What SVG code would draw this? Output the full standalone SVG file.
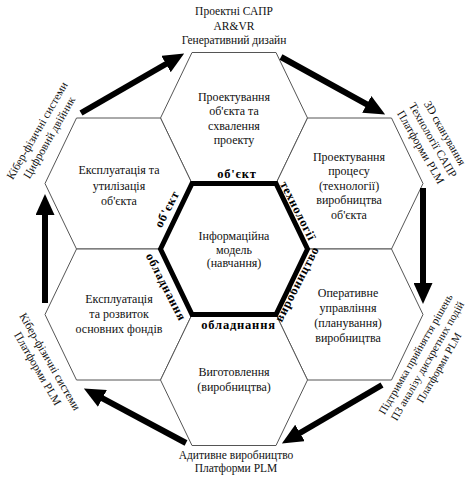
<svg xmlns="http://www.w3.org/2000/svg" width="468" height="478" viewBox="0 0 468 478">
<style>
.hex{fill:#fff;stroke:#555;stroke-width:1}
.core{fill:#fff;stroke:#000;stroke-width:5;stroke-linejoin:miter}
.t{font-family:"Liberation Serif","Times New Roman",serif;font-size:12px;fill:#111;text-anchor:middle}
.o{font-family:"Liberation Serif","Times New Roman",serif;font-size:11.5px;fill:#111;text-anchor:middle}
.os{font-size:11px}
.b{font-family:"Liberation Serif","Times New Roman",serif;font-size:12.5px;font-weight:bold;letter-spacing:0.8px;fill:#000;text-anchor:middle}
.arr{stroke:#000;stroke-width:6;fill:none;marker-end:url(#head)}
</style>
<defs>
<marker id="head" markerUnits="userSpaceOnUse" markerWidth="21" markerHeight="19" viewBox="0 0 21 19" refX="11" refY="9.5" orient="auto">
<path d="M0,0 L21,9.5 L0,19 z" fill="#000"/>
</marker>
</defs>
<rect width="468" height="478" fill="#fff"/>

<g id="hex-top">
<polygon class="hex" points="160.5,118 192,52.5 276,52.5 307.5,118 276,183.5 192,183.5"/>
<text class="t"><tspan x="234" y="100.5">Проектування</tspan><tspan x="234" y="115">об'єкта та</tspan><tspan x="234" y="129.5">схвалення</tspan><tspan x="234" y="144">проекту</tspan></text>
</g>
<g id="hex-upper-left">
<polygon class="hex" points="45,183.5 76.5,118 160.5,118 192,183.5 160.5,249 76.5,249"/>
<text class="t"><tspan x="119" y="174">Експлуатація та</tspan><tspan x="119" y="189.5">утилізація</tspan><tspan x="119" y="205">об'єкта</tspan></text>
</g>
<g id="hex-upper-right">
<polygon class="hex" points="276,183.5 307.5,118 391.5,118 423,183.5 391.5,249 307.5,249"/>
<text class="t"><tspan x="349" y="160.5">Проектування</tspan><tspan x="349" y="175">процесу</tspan><tspan x="349" y="189.5">(технології)</tspan><tspan x="349" y="204">виробництва</tspan><tspan x="349" y="218.5">об'єкта</tspan></text>
</g>
<g id="hex-lower-left">
<polygon class="hex" points="45,314.5 76.5,249 160.5,249 192,314.5 160.5,380 76.5,380"/>
<text class="t"><tspan x="119" y="303">Експлуатація</tspan><tspan x="119" y="318">та розвиток</tspan><tspan x="119" y="333">основних фондів</tspan></text>
</g>
<g id="hex-lower-right">
<polygon class="hex" points="276,314.5 307.5,249 391.5,249 423,314.5 391.5,380 307.5,380"/>
<text class="t"><tspan x="348" y="297">Оперативне</tspan><tspan x="348" y="312">управління</tspan><tspan x="348" y="327">(планування)</tspan><tspan x="348" y="342">виробництва</tspan></text>
</g>
<g id="hex-bottom">
<polygon class="hex" points="160.5,380 192,314.5 276,314.5 307.5,380 276,445.5 192,445.5"/>
<text class="t"><tspan x="234" y="376">Виготовлення</tspan><tspan x="234" y="391">(виробництва)</tspan></text>
</g>
<g id="hex-center">
<polygon class="core" points="160.5,249 192,183.5 276,183.5 307.5,249 276,314.5 192,314.5"/>
<text class="t"><tspan x="234" y="240">Інформаційна</tspan><tspan x="234" y="253.5">модель</tspan><tspan x="234" y="267">(навчання)</tspan></text>
<text class="b" x="237" y="178">об'єкт</text>
<text class="b" x="238.5" y="328.5">обладнання</text>
<text class="b" transform="translate(167,209) rotate(-63)" x="0" y="4">об'єкт</text>
<text class="b" transform="translate(166,287) rotate(63)" x="0" y="4">обладнання</text>
<text class="b" transform="translate(298,211) rotate(63)" x="0" y="4">технології</text>
<text class="b" transform="translate(297,284) rotate(-63)" x="0" y="4">виробництво</text>
</g>

<g id="label-top">
<text class="o"><tspan x="234" y="15">Проектні САПР</tspan><tspan x="234" y="29.5">AR&amp;VR</tspan><tspan x="234" y="44">Генеративний дизайн</tspan></text>
</g>
<g id="label-upper-right">
<text class="o" transform="translate(433,140) rotate(60)"><tspan x="0" y="-10">3D сканування</tspan><tspan x="0" y="4">Технології САПР</tspan><tspan x="0" y="18">Платформи PLM</tspan></text>
</g>
<g id="label-lower-right">
<text class="o os" transform="translate(427.5,361) rotate(-60)"><tspan x="0" y="-10">Підтримка прийняття рішень</tspan><tspan x="0" y="3.5">ПЗ аналізу дискретних подій</tspan><tspan x="0" y="17">Платформи PLM</tspan></text>
</g>
<g id="label-bottom">
<text class="o"><tspan x="236" y="459">Адитивне виробництво</tspan><tspan x="236" y="472">Платформи PLM</tspan></text>
</g>
<g id="label-lower-left">
<text class="o" transform="translate(44,365) rotate(60)"><tspan x="0" y="-3">Кібер-фізичні системи</tspan><tspan x="0" y="11">Платформи PLM</tspan></text>
</g>
<g id="label-upper-left">
<text class="o" transform="translate(43,134) rotate(-60)"><tspan x="0" y="-3">Кібер-фізичні системи</tspan><tspan x="0" y="11">Цифровий двійник</tspan></text>
</g>

<g id="connectors">
<line class="arr" x1="81" y1="113" x2="175.5" y2="58.5"/>
<line class="arr" x1="281" y1="57" x2="376.4" y2="109.7"/>
<line class="arr" x1="423" y1="188" x2="423" y2="294"/>
<line class="arr" x1="382" y1="385" x2="290.5" y2="438.5"/>
<line class="arr" x1="186" y1="443" x2="92.7" y2="393.2"/>
<line class="arr" x1="45" y1="303" x2="45" y2="204"/>
</g>
</svg>
